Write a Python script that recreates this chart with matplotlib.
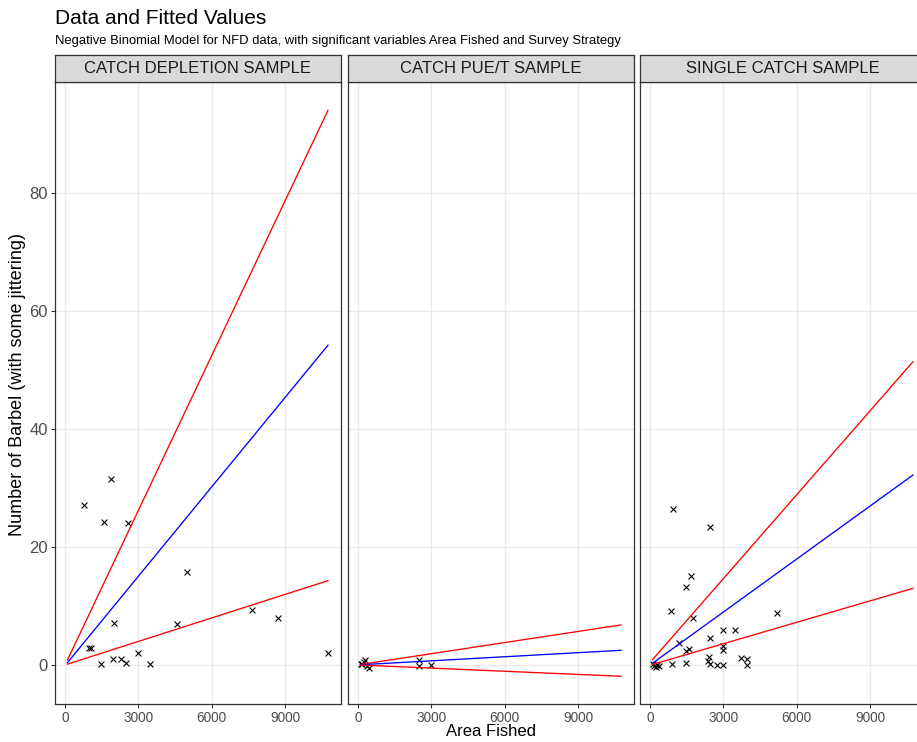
import matplotlib
matplotlib.use("Agg")
import matplotlib.pyplot as plt

plt.rcParams['font.family'] = ['Liberation Sans', 'DejaVu Sans']

# ---- data ----
panel_titles = ["CATCH DEPLETION SAMPLE", "CATCH PUE/T SAMPLE", "SINGLE CATCH SAMPLE"]

area_depl = [790, 1582, 2592, 1900, 4978, 7665, 8715, 10747, 1992, 4569, 982, 1077,
             1473, 1977, 2278, 2495, 2973, 3478]
barbel_depl = [27.2, 24.2, 24.1, 31.6, 15.7, 9.3, 8.0, 2.1, 7.1, 6.9, 2.9, 2.9,
               0.1, 0.97, 1.1, 0.3, 2.1, 0.2]

area_pue = [245, 180, 356, 450, 110, 300, 2512, 2512, 3003]
barbel_pue = [0.56, 0.1, -0.1, -0.45, 0.1, 0.85, 0.85, -0.1, 0.0]

area_single = [929, 2470, 1679, 1473, 874, 5197, 1760, 2975, 3466, 2470, 1187, 1473,
               1583, 2975, 2975, 2402, 2360, 2470, 3723, 3985, 3985, 2742, 2975,
               888, 1473, 180, 286, 245, 356, 120]
barbel_single = [26.4, 23.4, 15.1, 13.3, 9.1, 8.8, 7.9, 6.0, 6.0, 4.6, 3.8, 2.4,
                 2.8, 3.3, 2.5, 1.4, 0.7, 0.1, 1.2, 1.1, 0.0, -0.05, -0.05,
                 0.2, 0.3, -0.1, 0.0, -0.4, -0.17, 0.1]

fit_area = [100, 10760]
fit_depl = [0.4, 54.2]
upper_depl = [0.85, 94.0]
lower_depl = [0.15, 14.3]
fit_pue = [0.05, 2.5]
upper_pue = [0.1, 6.8]
lower_pue = [0.0, -1.9]
fit_single = [0.3, 32.2]
upper_single = [0.9, 51.4]
lower_single = [0.1, 13.0]

x_ticks = [0, 3000, 6000, 9000]
y_ticks = [0, 20, 40, 60, 80]

points = [(area_depl, barbel_depl), (area_pue, barbel_pue), (area_single, barbel_single)]
fits = [(fit_depl, upper_depl, lower_depl),
        (fit_pue, upper_pue, lower_pue),
        (fit_single, upper_single, lower_single)]

# ---- figure ----
W, H = 917, 742
fig = plt.figure(figsize=(W / 100, H / 100), dpi=100)

def fx(px):
    return px / W

def fy(py):
    return 1 - py / H

panel_lefts = [55, 348, 640]
panel_w = 286
panel_top, panel_bot = 82, 704
strip_top = 55

border_col = '#333333'
grid_col = '#EBEBEB'
tick_col = '#4D4D4D'

for i, left in enumerate(panel_lefts):
    ax = fig.add_axes([fx(left), fy(panel_bot), fx(panel_w), (panel_bot - panel_top) / H])
    ax.set_xlim(-409, 11293)
    ax.set_ylim(-6.6, 98.8)
    ax.set_xticks(x_ticks)
    ax.set_yticks(y_ticks)
    ax.grid(True, color=grid_col, linewidth=1.0)
    ax.set_axisbelow(True)
    for s in ax.spines.values():
        s.set_color(border_col)
        s.set_linewidth(0.9)
    ax.tick_params(axis='both', colors=border_col, length=3, width=0.8,
                   labelcolor=tick_col, labelsize=9.8, pad=2)
    if i != 0:
        ax.tick_params(axis='y', labelleft=False, left=False)
    else:
        ax.set_yticklabels([str(v) for v in y_ticks], fontsize=12)
    ax.set_xticklabels([str(v) for v in x_ticks])

    xs, ys = points[i]
    ax.scatter(xs, ys, marker='x', s=18, color='black', linewidths=0.8, zorder=3)
    f, u, l = fits[i]
    ax.plot(fit_area, u, color='#FF0000', lw=0.95, zorder=4)
    ax.plot(fit_area, f, color='#0000FF', lw=0.95, zorder=4)
    ax.plot(fit_area, l, color='#FF0000', lw=0.95, zorder=4)

    # strip
    sax = fig.add_axes([fx(left), fy(panel_top), fx(panel_w), (panel_top - strip_top) / H])
    sax.set_facecolor('#D9D9D9')
    sax.set_xticks([])
    sax.set_yticks([])
    for s in sax.spines.values():
        s.set_color(border_col)
        s.set_linewidth(0.9)
    sax.text(0.5, 0.5, panel_titles[i], transform=sax.transAxes, ha='center',
             va='center', fontsize=12, color='#1A1A1A')

fig.text(fx(55), fy(19), "Data and Fitted Values", fontsize=15, ha='left', va='center')
fig.text(fx(55), fy(41), "Negative Binomial Model for NFD data, with significant variables Area Fished and Survey Strategy",
         fontsize=9.4, ha='left', va='center')
fig.text(fx(491), fy(731), "Area Fished", fontsize=12, ha='center', va='center')
fig.text(fx(18), fy(384), "Number of Barbel (with some jittering)", fontsize=13,
         ha='center', va='center', rotation=90)

fig.savefig("out.png", dpi=100)
